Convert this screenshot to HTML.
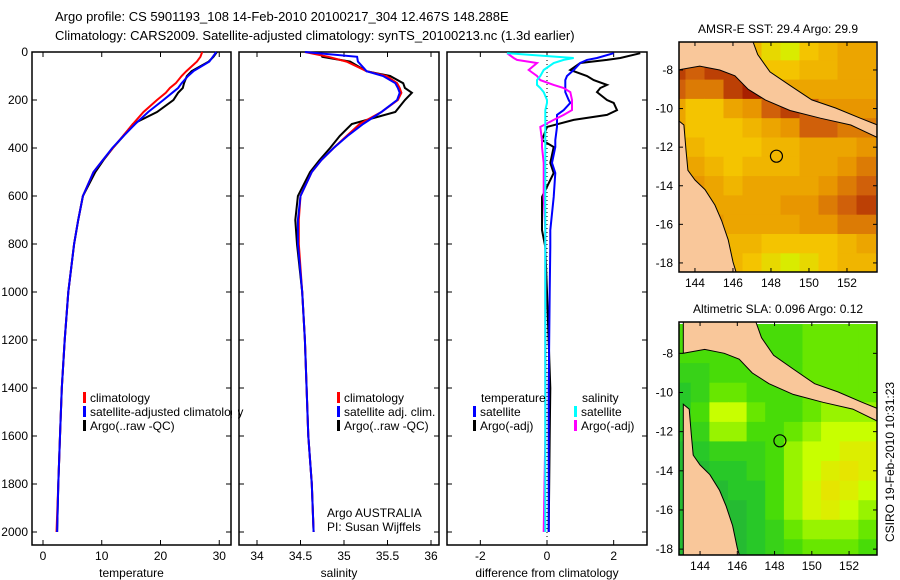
<!DOCTYPE html>
<html><head><meta charset="utf-8"><style>
body{margin:0;background:#fff}
svg{display:block;font-family:"Liberation Sans",sans-serif;font-size:12px}
</style></head><body>
<svg id="c" width="900" height="580" viewBox="0 0 900 580">
<text x="55" y="21" font-size="13">Argo profile: CS 5901193_108 14-Feb-2010 20100217_304 12.467S 148.288E</text>
<text x="55" y="40" font-size="13">Climatology: CARS2009. Satellite-adjusted climatology: synTS_20100213.nc (1.3d earlier)</text>
<g id="g"></g>
</svg>
<script>
// ---- data ----
const depth=[0,20,40,80,100,130,150,170,200,250,300,350,400,450,500,600,700,800,1000,1200,1400,1600,1800,2000];
const tempClim=[27.1,26.8,26.2,24.4,23.6,22.6,21.6,20.9,19.4,17.1,15.3,13.6,11.9,10.2,8.6,6.8,6.0,5.3,4.3,3.7,3.2,2.9,2.6,2.3];
const tempSat=[29.5,28.9,28.3,25.6,24.7,23.6,23.0,22.0,20.5,17.9,15.7,13.7,11.8,10.2,8.6,6.8,6.0,5.3,4.3,3.7,3.2,2.9,2.6,2.4];
const tempArgo=[29.6,29.0,28.2,25.3,24.5,24.0,23.8,23.0,22.2,19.4,15.3,13.7,11.9,10.3,8.9,6.8,6.0,5.3,4.3,3.7,3.2,2.9,2.6,2.4];
const salClim=[34.55,34.82,35.03,35.26,35.49,35.61,35.64,35.66,35.62,35.43,35.18,35.03,34.88,34.74,34.63,34.50,34.48,34.48,34.52,34.55,34.57,34.59,34.63,34.65];
const salSat=[34.55,35.15,35.16,35.26,35.45,35.59,35.62,35.64,35.61,35.43,35.22,35.04,34.88,34.74,34.63,34.50,34.47,34.47,34.52,34.55,34.57,34.59,34.63,34.65];
const salArgo=[34.72,34.75,35.07,35.26,35.53,35.68,35.70,35.78,35.70,35.59,35.09,34.95,34.84,34.72,34.61,34.47,34.44,34.46,34.52,34.55,34.57,34.59,34.63,34.65];
const dDepth=[5,25,33,46,75,100,117,137,150,167,200,212,242,262,283,312,367,396,462,504,604,742,812,1000,1400,1600,2000];
const dTempSat=[2.0,1.5,1.2,1.0,0.8,0.6,0.55,0.55,0.55,0.55,0.65,0.7,0.5,0.3,0.3,0.3,0.25,0.25,0.15,0.25,0.2,0.1,0.1,0.08,0.05,0.05,0.05];
const dTempArgo=[2.8,2.2,1.8,1.0,0.7,1.2,1.4,1.8,1.6,1.5,1.8,2.0,2.1,1.8,0.8,0.0,-0.15,0.2,0.1,0.2,-0.15,-0.15,-0.05,0.0,0.1,0.08,0.05];
const dSalSat=[-1.2,0.8,0.5,0.2,-0.1,-0.2,-0.3,-0.3,-0.2,-0.1,0.0,0.0,-0.05,-0.05,-0.05,-0.05,-0.05,-0.05,-0.05,-0.05,-0.05,-0.05,-0.05,-0.05,-0.05,-0.05,-0.05];
const dSalArgo=[-1.2,-1.0,-0.9,-0.3,-0.55,-0.3,-0.2,0.2,0.5,0.7,0.75,0.75,0.75,0.5,0.2,-0.2,-0.15,-0.15,-0.1,-0.1,-0.1,-0.05,-0.05,-0.05,-0.05,-0.05,-0.1];
const depthTicks=[0,200,400,600,800,1000,1200,1400,1600,1800,2000];
const tempTicks=[0,10,20,30];
const salTicks=[34,34.5,35,35.5,36];
const salTickLabels=["34","34.5","35","35.5","36"];
const diffTicks=[-2,0,2];
const lonTicks=[144,146,148,150,152];
const latTicks=[-8,-10,-12,-14,-16,-18];
const gridLon=[143,144,145,146,147,148,149,150,151,152,153];
const gridLat=[-7,-8,-9,-10,-11,-12,-13,-14,-15,-16,-17,-18];
const sst=[
[.5,.5,.5,.5,.4,.2,.1,.3,.4,.5,.5],
[.9,.8,.9,.9,.4,.3,.3,.4,.4,.5,.5],
[.8,.7,.7,.9,1,.6,.5,.5,.5,.5,.5],
[.5,.3,.3,.5,.6,.8,.9,.8,.6,.6,.6],
[.5,.3,.3,.3,.4,.5,.6,.8,.8,.7,.7],
[.6,.4,.3,.3,.3,.4,.4,.5,.5,.5,.6],
[.7,.5,.4,.3,.4,.4,.4,.5,.5,.6,.7],
[.7,.6,.5,.4,.5,.5,.5,.5,.6,.7,.8],
[.7,.7,.5,.5,.5,.5,.6,.6,.7,.8,.9],
[.7,.6,.6,.5,.5,.5,.5,.6,.6,.7,.7],
[.6,.6,.5,.4,.4,.3,.3,.3,.3,.4,.5],
[.6,.6,.5,.4,.3,.2,.1,.2,.3,.4,.4]];
const sla=[
[.5,.5,.5,.5,.5,.5,.5,.6,.6,.6,.6],
[.5,.5,.5,.5,.5,.5,.5,.6,.6,.6,.6],
[.4,.4,.5,.5,.5,.5,.5,.6,.6,.6,.6],
[.3,.4,.6,.6,.5,.5,.5,.6,.6,.6,.6],
[.3,.5,.8,.8,.6,.5,.5,.6,.7,.7,.7],
[.3,.4,.7,.7,.5,.5,.6,.7,.8,.8,.8],
[.2,.3,.4,.4,.4,.5,.7,.8,.8,.9,.9],
[.2,.2,.3,.3,.4,.5,.7,.8,.9,.95,.9],
[.2,.2,.2,.3,.3,.5,.7,.85,.95,.9,.8],
[.2,.2,.2,.2,.3,.5,.7,.85,.9,.8,.7],
[.2,.2,.2,.2,.3,.4,.6,.7,.7,.7,.6],
[.2,.2,.2,.2,.3,.4,.5,.6,.6,.6,.5]];
const pngLon=[143.1,147.0,147.3,147.95,149,150.15,151.4,152.7,153.6,153.6,152.2,150.6,149,147.7,146.8,146.1,145.3,144.25,143.1];
const pngLat=[-6.4,-6.4,-7.2,-8.1,-8.8,-9.55,-9.97,-10.5,-10.85,-11.5,-10.85,-10.5,-10.1,-9.55,-9.0,-8.3,-8.0,-7.8,-8.0];
const ausLon=[143.1,143.42,143.53,143.63,144,144.53,145.05,145.4,145.75,146,146.2,143.1];
const ausLat=[-10.6,-10.85,-12.15,-13.2,-13.7,-14.2,-15.0,-15.8,-16.8,-17.95,-18.6,-18.6];
const argoLon=148.288, argoLat=-12.467;

const NS='http://www.w3.org/2000/svg';
const G=document.getElementById('g');
function mk(tag,at,parent){const e=document.createElementNS(NS,tag);for(const k in at)e.setAttribute(k,at[k]);(parent||G).appendChild(e);return e;}
function txt(x,y,s,anchor,parent){const t=mk('text',{x:x,y:y,'text-anchor':anchor||'start'},parent);t.textContent=s;return t;}

// ---- profile panels ----
const Y0=52,Y1=545;
const yD=d=>Y0+d*0.24;
function panel(name,x0,x1,vmin,vmax,ticks,labels,xlabel){
  const sx=v=>x0+(v-vmin)/(vmax-vmin)*(x1-x0);
  const g=mk('g',{});
  
  
  const r=mk('rect',{x:x0,y:Y0,width:x1-x0,height:Y1-Y0,fill:'none',stroke:'#000','stroke-width':1.5},g);
  
  
  ticks.forEach((v,i)=>{
    const x=sx(v);
    mk('line',{x1:x,x2:x,y1:Y1,y2:Y1-5,stroke:'#000'},g);
    mk('line',{x1:x,x2:x,y1:Y0,y2:Y0+5,stroke:'#000'},g);
    const t=txt(x,Y1+15,labels[i],'middle',g);
    
    
  });
  depthTicks.forEach(d=>{
    mk('line',{x1:x0,x2:x0+5,y1:yD(d),y2:yD(d),stroke:'#000'},g);
    mk('line',{x1:x1,x2:x1-5,y1:yD(d),y2:yD(d),stroke:'#000'},g);
  });
  const xl=txt((x0+x1)/2,Y1+32,xlabel,'middle',g);
  
  
  return {sx:sx,g:g};
}
function line(p,vals,deps,color,name,w){
  const pts=vals.map((v,i)=>p.sx(v).toFixed(1)+','+yD(deps[i]).toFixed(1)).join(' ');
  const l=mk('polyline',{points:pts,fill:'none',stroke:color,'stroke-width':w||2},p.g);
  
  
}
depthTicks.forEach(d=>{
  const t=txt(28,yD(d)+4,String(d),'end');
  
  
});
const pT=panel('temperature-panel',32,231,-1.87,32.0,tempTicks,tempTicks.map(String),'temperature');
line(pT,tempArgo,depth,'#000','temp-argo-line');
line(pT,tempClim,depth,'#f00','temp-climatology-line');
line(pT,tempSat,depth,'#00f','temp-satellite-line');
const pS=panel('salinity-panel',239,439,33.793,36.092,salTicks,salTickLabels,'salinity');
line(pS,salArgo,depth,'#000','salinity-argo-line');
line(pS,salClim,depth,'#f00','salinity-climatology-line');
line(pS,salSat,depth,'#00f','salinity-satellite-line');
const pD=panel('difference-panel',447,647,-3.0,3.0,diffTicks,diffTicks.map(String),'difference from climatology');
const zl=mk('line',{x1:pD.sx(0),x2:pD.sx(0),y1:Y0,y2:Y1,stroke:'#000','stroke-dasharray':'1,3'},pD.g);


line(pD,dTempArgo,dDepth,'#000','diff-temp-argo-line');
line(pD,dTempSat,dDepth,'#00f','diff-temp-satellite-line');
line(pD,dSalArgo,dDepth,'#f0f','diff-salinity-argo-line');
line(pD,dSalSat,dDepth,'#0ff','diff-salinity-satellite-line');

// legends
function legend(x,y,color,label,name){
  const m=mk('rect',{x:x,y:y-10,width:3,height:11,fill:color});
  
  
  const t=txt(x+7,y,label);
  
  
}
legend(83,402,'#f00','climatology','legend-temp-climatology');
legend(83,416,'#00f','satellite-adjusted climatology','legend-temp-satellite');
legend(83,430,'#000','Argo(..raw -QC)','legend-temp-argo');
const cover=mk('rect',{x:232,y:405,width:6,height:14,fill:'#fff'});


legend(337,402,'#f00','climatology','legend-sal-climatology');
legend(337,416,'#00f','satellite adj. clim.','legend-sal-satellite');
legend(337,430,'#000','Argo(..raw -QC)','legend-sal-argo');
let t1=txt(327,517,'Argo AUSTRALIA');
let t2=txt(327,531,'PI: Susan Wijffels');
let t3=txt(481,402,'temperature');
let t4=txt(582,402,'salinity');
legend(473,416,'#00f','satellite','legend-diff-temp-satellite');
legend(473,430,'#000','Argo(-adj)','legend-diff-temp-argo');
legend(574,416,'#0ff','satellite','legend-diff-sal-satellite');
legend(574,430,'#f0f','Argo(-adj)','legend-diff-sal-argo');

// ---- maps ----
function lerpC(stops,v){
  v=Math.max(0,Math.min(1,v));
  for(let i=0;i<stops.length-1;i++){const a=stops[i],b=stops[i+1];
    if(v<=b[0]){const f=(v-a[0])/(b[0]-a[0]);
      return 'rgb('+[1,2,3].map(k=>Math.round(a[k]+(b[k]-a[k])*f)).join(',')+')';}}
  const l=stops[stops.length-1];return 'rgb('+l[1]+','+l[2]+','+l[3]+')';
}
const sstStops=[[0,204,255,0],[0.3,244,196,0],[0.6,232,150,0],[0.8,208,96,10],[1,168,32,0]];
const slaStops=[[0,30,160,70],[0.3,40,200,40],[0.55,80,225,0],[0.8,200,255,0],[1,240,220,0]];
function map(name,x0,x1,y0,y1,lonMin,lonMax,latMax,latMin,grid,stops,title){
  const sx=v=>x0+(v-lonMin)/(lonMax-lonMin)*(x1-x0);
  const sy=v=>y0+(latMax-v)/(latMax-latMin)*(y1-y0);
  const g=mk('g',{});
  
  
  const cid=name+'-clip';
  const cp=mk('clipPath',{id:cid},g);
  mk('rect',{x:x0,y:y0,width:x1-x0,height:y1-y0},cp);
  const inner=mk('g',{'clip-path':'url(#'+cid+')'},g);
  mk('rect',{x:x0,y:y0,width:x1-x0,height:y1-y0,fill:'#fff'},inner);
  grid.forEach((row,ri)=>row.forEach((v,ci)=>{
    const la=gridLat[ri],lo=gridLon[ci];
    const c=mk('rect',{x:sx(lo-0.5).toFixed(1),y:sy(la+0.5).toFixed(1),width:(sx(lo+0.5)-sx(lo-0.5)+0.6).toFixed(1),height:(sy(la-0.5)-sy(la+0.5)+0.6).toFixed(1),fill:lerpC(stops,v)},inner);
    
    
  }));
  [[pngLon,pngLat,'new-guinea-land'],[ausLon,ausLat,'australia-land']].forEach(L=>{
    const p=mk('polygon',{points:L[0].map((lo,i)=>sx(lo).toFixed(1)+','+sy(L[1][i]).toFixed(1)).join(' '),fill:'#f9c79a',stroke:'#000','stroke-width':1},inner);
    
    
  });
  const ci=mk('circle',{cx:sx(argoLon),cy:sy(argoLat),r:6,fill:'none',stroke:'#000','stroke-width':1.2},g);
  
  
  const fr=mk('rect',{x:x0,y:y0,width:x1-x0,height:y1-y0,fill:'none',stroke:'#000','stroke-width':1.5},g);
  
  
  lonTicks.forEach(v=>{const x=sx(v);
    mk('line',{x1:x,x2:x,y1:y1,y2:y1-4,stroke:'#000'},g);mk('line',{x1:x,x2:x,y1:y0,y2:y0+4,stroke:'#000'},g);
    const t=txt(x,y1+15,String(v),'middle',g);});
  latTicks.forEach(v=>{const y=sy(v);
    mk('line',{x1:x0,x2:x0+4,y1:y,y2:y,stroke:'#000'},g);mk('line',{x1:x1,x2:x1-4,y1:y,y2:y,stroke:'#000'},g);
    const t=txt(x0-6,y+4,String(v),'end',g);});
  const tt=txt((x0+x1)/2,y0-9,title,'middle',g);
  
  
}
map('sst-map',679,877,42,272,143.16,153.58,-6.55,-18.47,sst,sstStops,'AMSR-E SST: 29.4  Argo: 29.9');
map('sla-map',679,877,322,555,142.87,153.5,-6.4,-18.3,sla,slaStops,'Altimetric SLA: 0.096  Argo: 0.12');
const cs=txt(0,0,'CSIRO 19-Feb-2010 10:31:23','middle');
cs.setAttribute('transform','translate(894,462) rotate(-90)');


</script>
</body></html>
